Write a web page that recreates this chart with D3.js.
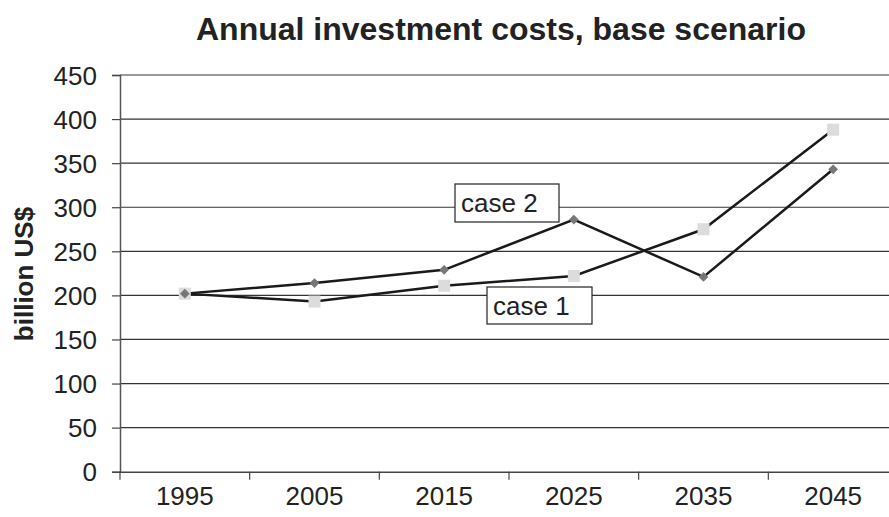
<!DOCTYPE html>
<html><head><meta charset="utf-8">
<script src="https://cdn.jsdelivr.net/npm/d3@7"></script>
<style>body{margin:0;background:#fff}svg{display:block}</style>
</head><body>
<svg id="chart" width="889" height="517"></svg>
<script>
const years = ["1995","2005","2015","2025","2035","2045"];
const case1 = [202, 193, 211, 222, 275, 388];
const case2 = [202, 214, 229, 286, 221, 343];
const yTicks = [0,50,100,150,200,250,300,350,400,450];

const svg = d3.select("#chart");
const font = "Arial, 'Liberation Sans', sans-serif";
const mLeft = 120, mRight = 898, mTop = 75, mBottom = 471.7;
const x = d3.scaleBand().domain(years).range([mLeft, mRight]);
const y = d3.scaleLinear().domain([0,450]).range([mBottom, mTop]);

// gridlines
svg.append("g").selectAll("line").data(yTicks.filter(d=>d>0)).join("line")
  .attr("x1", mLeft).attr("x2", mRight)
  .attr("y1", d=>y(d)).attr("y2", d=>y(d))
  .attr("stroke", d=> d===450 ? "#999" : "#333").attr("stroke-width", d=> d===450 ? 2 : 1.2);

// y axis
const ya = svg.append("g").attr("transform", `translate(${mLeft},0)`)
  .call(d3.axisLeft(y).tickValues(yTicks).tickSize(8).tickPadding(15));
ya.select(".domain").attr("stroke","#555").attr("stroke-width",1.5);
ya.selectAll(".tick line").attr("stroke","#444").attr("stroke-width",1.2);
ya.selectAll("text").attr("font-family",font).attr("font-size",26).attr("fill","#222").attr("dy","0.35em");

// x axis
const xa = svg.append("g").attr("transform", `translate(0,${mBottom})`)
  .call(d3.axisBottom(x).tickSize(0).tickPadding(0));
xa.select(".domain").attr("stroke","#444").attr("stroke-width",1.5);
xa.selectAll("text").attr("font-family",font).attr("font-size",26).attr("fill","#222")
  .attr("dy",null).attr("y",33.5);
svg.append("g").selectAll("line").data(years.map((d,i)=>i)).join("line")
  .attr("x1", i=>mLeft + i*x.step()).attr("x2", i=>mLeft + i*x.step())
  .attr("y1", mBottom).attr("y2", mBottom+8).attr("stroke","#444").attr("stroke-width",1.2);

const cx = d => x(d) + x.bandwidth()/2;
const line = d3.line().x((d,i)=>cx(years[i])).y(d=>y(d));

svg.append("path").datum(case1).attr("d", line).attr("fill","none").attr("stroke","#1a1a1a").attr("stroke-width",2.5);
svg.append("path").datum(case2).attr("d", line).attr("fill","none").attr("stroke","#1a1a1a").attr("stroke-width",2.5);

// markers
svg.append("g").selectAll("rect").data(case1).join("rect")
  .attr("x",(d,i)=>cx(years[i])-6).attr("y",d=>y(d)-6).attr("width",12).attr("height",12)
  .attr("fill","#dcdcdc");
svg.append("g").selectAll("path").data(case2).join("path")
  .attr("d", d3.symbol().type(d3.symbolDiamond2).size(60))
  .attr("transform",(d,i)=>`translate(${cx(years[i])},${y(d)})`)
  .attr("fill","#777");

// labels
function label(x0, y0, w, h, txt){
  svg.append("rect").attr("x",x0).attr("y",y0).attr("width",w).attr("height",h)
    .attr("fill","#fff").attr("stroke","#222").attr("stroke-width",1.2);
  svg.append("text").attr("x",x0+6).attr("y",y0+h/2+9).attr("font-family",font)
    .attr("font-size",26).attr("fill","#222").text(txt);
}
label(455, 184, 104, 38, "case 2");
label(487, 287, 105, 37, "case 1");

// title
svg.append("text").attr("x",501).attr("y",40).attr("text-anchor","middle")
  .attr("font-family",font).attr("font-size",32).attr("font-weight","bold").attr("fill","#222")
  .text("Annual investment costs, base scenario");
svg.append("text").attr("transform","translate(33,274) rotate(-90)").attr("text-anchor","middle")
  .attr("font-family",font).attr("font-size",26).attr("font-weight","bold").attr("fill","#222")
  .text("billion US$");
</script>
</body></html>
